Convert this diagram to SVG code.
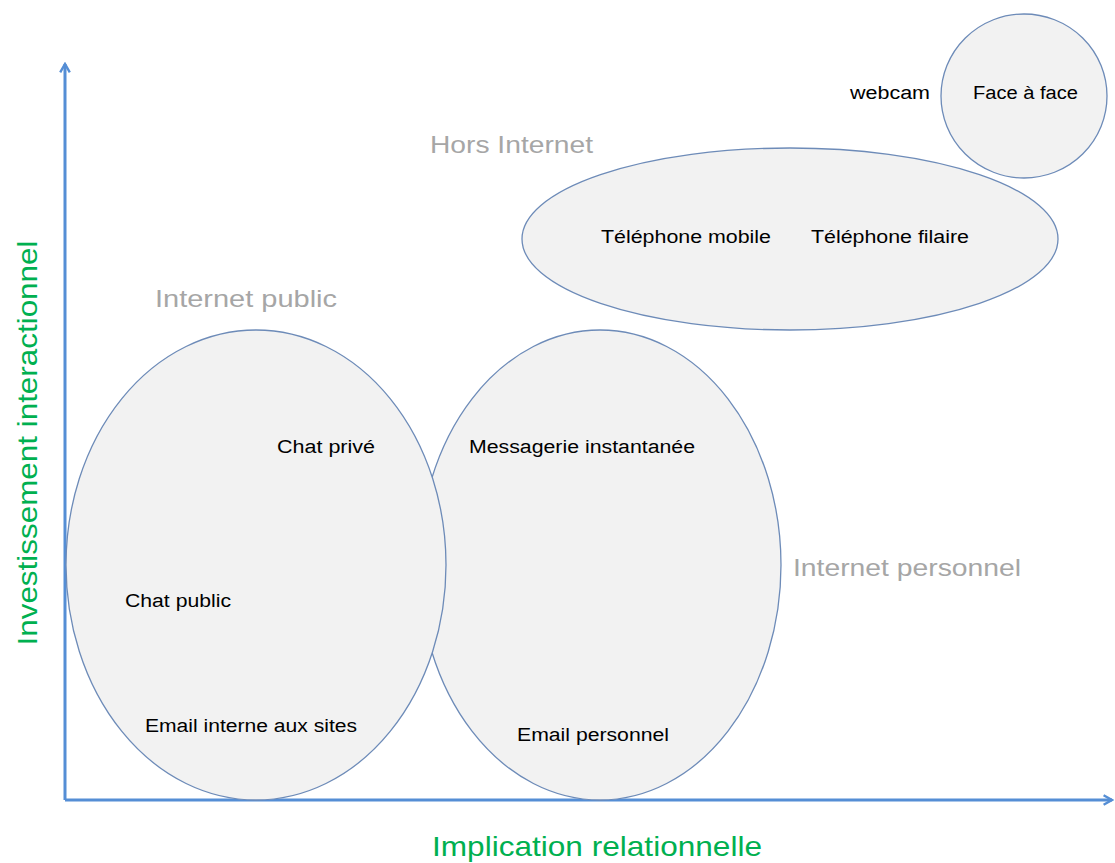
<svg xmlns="http://www.w3.org/2000/svg" width="1115" height="863" viewBox="0 0 1115 863">
<style>
.node ellipse{fill:#f2f2f2;stroke:#6d8bb8;stroke-width:1.3}
.lbl{font-family:"Liberation Sans",Arial,sans-serif;font-size:18px;fill:#000}
.grp{font-family:"Liberation Sans",Arial,sans-serif;font-size:24px;fill:#a6a6a6}
.ax{font-family:"Liberation Sans",Arial,sans-serif;font-size:28px;fill:#00b050}
.axis{stroke:#558ed5;stroke-width:3;fill:none}
</style>
<defs>
<marker id="arr" viewBox="0 0 10 10" refX="8" refY="5" markerWidth="4" markerHeight="4" orient="auto" markerUnits="strokeWidth">
<path d="M1,1 L8,5 L1,9" fill="none" stroke="#558ed5" stroke-width="2"/>
</marker>
</defs>
<rect width="1115" height="863" fill="#fff"/>
<g id="connectors">
<path class="axis" d="M65,800 L65,64" marker-end="url(#arr)"/>
<path class="axis" d="M65,800 L1112,800" marker-end="url(#arr)"/>
</g>
<g id="internet-personnel" class="node">
<ellipse cx="600" cy="565" rx="181" ry="235"/>
</g>
<g id="internet-public" class="node">
<ellipse cx="256" cy="565" rx="190" ry="235"/>
</g>
<g id="hors-internet" class="node">
<ellipse cx="790" cy="239" rx="268" ry="91"/>
</g>
<g id="face-a-face" class="node">
<ellipse cx="1024" cy="96" rx="83" ry="82"/>
</g>
<g id="labels">
<text class="lbl" x="850" y="99" textLength="80" lengthAdjust="spacingAndGlyphs">webcam</text>
<text class="lbl" x="973" y="99" textLength="105" lengthAdjust="spacingAndGlyphs">Face à face</text>
<text class="grp" x="430" y="153" textLength="163" lengthAdjust="spacingAndGlyphs">Hors Internet</text>
<text class="lbl" x="601" y="243" textLength="170" lengthAdjust="spacingAndGlyphs">Téléphone mobile</text>
<text class="lbl" x="811" y="243" textLength="158" lengthAdjust="spacingAndGlyphs">Téléphone filaire</text>
<text class="grp" x="155" y="307" textLength="182" lengthAdjust="spacingAndGlyphs">Internet public</text>
<text class="lbl" x="277" y="453" textLength="98" lengthAdjust="spacingAndGlyphs">Chat privé</text>
<text class="lbl" x="469" y="453" textLength="226" lengthAdjust="spacingAndGlyphs">Messagerie instantanée</text>
<text class="grp" x="793" y="576" textLength="228" lengthAdjust="spacingAndGlyphs">Internet personnel</text>
<text class="lbl" x="125" y="607" textLength="106" lengthAdjust="spacingAndGlyphs">Chat public</text>
<text class="lbl" x="145" y="732" textLength="212" lengthAdjust="spacingAndGlyphs">Email interne aux sites</text>
<text class="lbl" x="517" y="741" textLength="152" lengthAdjust="spacingAndGlyphs">Email personnel</text>
<text class="ax" x="432" y="856" textLength="330" lengthAdjust="spacingAndGlyphs">Implication relationnelle</text>
<text class="ax" transform="translate(37,443) rotate(-90)" x="0" y="0" text-anchor="middle" textLength="405" lengthAdjust="spacingAndGlyphs">Investissement interactionnel</text>
</g>
</svg>
